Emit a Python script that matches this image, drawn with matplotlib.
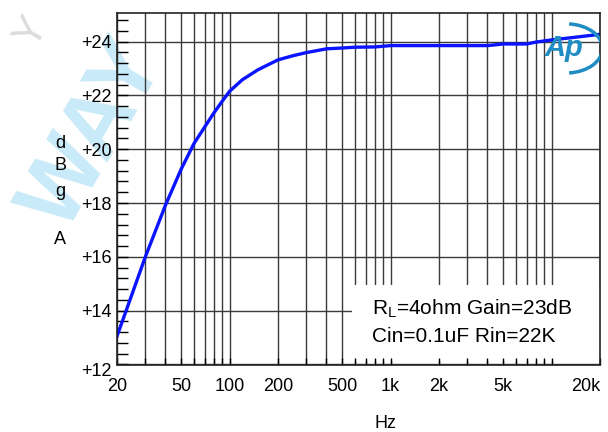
import numpy as np
import matplotlib
matplotlib.use('Agg')
import matplotlib.pyplot as plt
import matplotlib.transforms as mtransforms
from matplotlib.patches import Rectangle, Arc
from matplotlib.ticker import FixedLocator, NullFormatter

plt.rcParams['font.family'] = ['Liberation Sans', 'DejaVu Sans']

# frequency response
freq = [20, 30, 40, 50, 60, 70, 80, 90, 100, 120, 150, 200, 250, 300, 400, 500,
        600, 800, 1000, 2000, 4000, 4500, 5000, 7000, 8000, 10000, 15000, 20000]
gain = [13.05, 16.0, 17.92, 19.25, 20.2, 20.82, 21.35, 21.78, 22.15, 22.58, 22.95,
        23.32, 23.48, 23.59, 23.73, 23.76, 23.79, 23.8, 23.85, 23.85, 23.85,
        23.88, 23.91, 23.91, 23.98, 24.06, 24.18, 24.27]

major_x = [20, 50, 100, 200, 500, 1000, 2000, 5000, 20000]
major_x_labels = ['20', '50', '100', '200', '500', '1k', '2k', '5k', '20k']
grid_x = [20, 30, 40, 50, 60, 70, 80, 90, 100, 200, 300, 400, 500, 600, 700,
          800, 900, 1000, 2000, 3000, 4000, 5000, 6000, 7000, 8000, 9000,
          10000, 20000]
y_major = [12, 14, 16, 18, 20, 22, 24]
y_labels = ['+12', '+14', '+16', '+18', '+20', '+22', '+24']

fig = plt.figure(figsize=(6.08, 4.32), dpi=100)

# watermark, behind everything
fig.text(95/608, 1 - 135/432, 'WAY', fontsize=66, fontweight='bold', color='#c9eaf8',
         rotation=60, ha='center', va='center', zorder=-5)
fig.text(32/608, 1 - 32/432, 'Y', fontsize=30, color='#dcdcdc',
         rotation=60, ha='center', va='center', zorder=-5)

ax = fig.add_axes([117/608, 1 - 364.5/432, 483/608, 351.2/432])
ax.patch.set_alpha(0)
ax.set_xscale('log')
ax.set_xlim(20, 20000)
ax.set_ylim(12, 25.05)

gc = '#3a3a3a'
for f in grid_x:
    ax.axvline(f, color=gc, lw=1.0, zorder=1)
for v in y_major:
    ax.axhline(v, color=gc, lw=1.0, zorder=1)

# white box behind the note
ax.add_patch(Rectangle((0.4865, 0.01), 0.52, 0.216, transform=ax.transAxes,
                       facecolor='white', edgecolor='none', zorder=1.5))

ax.plot(freq, gain, color='#0a14ff', lw=2.4, zorder=3)

ax.xaxis.set_major_locator(FixedLocator(major_x))
ax.set_xticklabels(major_x_labels)
minor_x = [f for f in grid_x if f not in major_x]
ax.xaxis.set_minor_locator(FixedLocator(minor_x))
ax.xaxis.set_minor_formatter(NullFormatter())
ax.set_yticks(y_major)
ax.set_yticklabels(y_labels)
ax.yaxis.set_minor_locator(FixedLocator(np.arange(12.4, 25.0, 0.4)))

ax.tick_params(axis='both', which='both', direction='in', top=False, right=False,
               colors='black', labelsize=13)
ax.tick_params(axis='x', which='both', length=5, width=1, pad=10)
ax.tick_params(axis='y', which='both', length=8, width=1, pad=4)
last = ax.get_xticklabels()[-1]
last.set_horizontalalignment('right')
first = ax.get_yticklabels()[0]
first.set_transform(first.get_transform() +
                    mtransforms.ScaledTranslation(0, -5/100, fig.dpi_scale_trans))

for s in ax.spines.values():
    s.set_color('#222222')
    s.set_linewidth(1.2)
    s.set_zorder(4)

ax.text(0.527, 0.158, r'R$_{\mathregular{L}}$=4ohm Gain=23dB', transform=ax.transAxes,
        fontsize=15, va='center', ha='left', zorder=4)
ax.text(0.527, 0.081, 'Cin=0.1uF Rin=22K', transform=ax.transAxes,
        fontsize=15, va='center', ha='left', zorder=4)

fig.text(385/608, 1 - 423/432, 'Hz', fontsize=13, ha='center', va='center')
for ch, yp in zip(['d', 'B', 'g', 'A'], [144, 166, 192, 240]):
    fig.text(60/608, 1 - yp/432, ch, fontsize=13, ha='center', va='center')

# Ap logo
ax.text(0.925, 0.9, 'Ap', transform=ax.transAxes, fontsize=21, fontweight='bold',
        style='italic', color='#1f8cc4', ha='center', va='center', zorder=5)
ax.add_patch(Arc((0.93, 0.9), 0.15, 0.14, theta1=-85, theta2=85,
                 transform=ax.transAxes, color='#1f8cc4', lw=2.5, zorder=5))

fig.savefig('out.png', dpi=100)
